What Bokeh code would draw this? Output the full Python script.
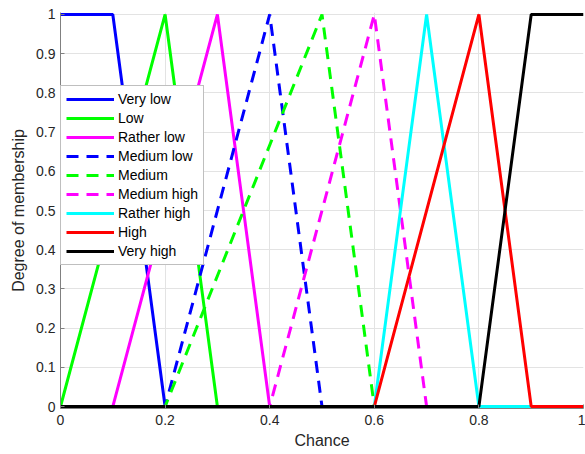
from bokeh.plotting import figure
from bokeh.models import Range1d, FixedTicker, Legend, LegendItem
from bokeh.embed import file_html
from bokeh.resources import INLINE

# Data: breakpoints of each membership function over Chance in [0, 1]
names = ["Very low", "Low", "Rather low", "Medium low", "Medium",
         "Medium high", "Rather high", "High", "Very high"]
xs = [
    [0, 0.1, 0.2, 1],
    [0, 0.2, 0.3, 1],
    [0, 0.1, 0.3, 0.4, 1],
    [0, 0.2, 0.4, 0.5, 1],
    [0, 0.2, 0.5, 0.6, 1],
    [0, 0.4, 0.6, 0.7, 1],
    [0, 0.6, 0.7, 0.8, 1],
    [0, 0.6, 0.8, 0.9, 1],
    [0, 0.8, 0.9, 1],
]
ys = [
    [1, 1, 0, 0],
    [0, 1, 0, 0],
    [0, 0, 1, 0, 0],
    [0, 0, 1, 0, 0],
    [0, 0, 1, 0, 0],
    [0, 0, 1, 0, 0],
    [0, 0, 1, 0, 0],
    [0, 0, 1, 0, 0],
    [0, 0, 1, 1],
]
colors = ["#0000ff", "#00ff00", "#ff00ff", "#0000ff", "#00ff00",
          "#ff00ff", "#00ffff", "#ff0000", "#000000"]
dashes = ["solid", "solid", "solid", "12 8", "12 8", "12 8", "solid", "solid", "solid"]
x_ticks = [0, 0.2, 0.4, 0.6, 0.8, 1]
y_ticks = [0, 0.1, 0.2, 0.3, 0.4, 0.5, 0.6, 0.7, 0.8, 0.9, 1]

p = figure(width=585, height=454, output_backend="svg", toolbar_location=None,
           x_range=Range1d(0, 1), y_range=Range1d(-0.005, 1.005),
           min_border_left=60, min_border_right=2, min_border_top=12,
           min_border_bottom=46)
p.outline_line_color = None
p.background_fill_color = "white"
p.border_fill_color = "white"

items = []
for name, x, y, c, d in zip(names, xs, ys, colors, dashes):
    r = p.line(x, y, line_color=c, line_width=3, line_dash=d)
    items.append(LegendItem(label=name, renderers=[r]))

font = "Liberation Sans"
for ax in (p.xaxis[0], p.yaxis[0]):
    ax.axis_line_color = "#808080"
    ax.major_tick_line_color = "#808080"
    ax.major_tick_in = 4
    ax.major_tick_out = 0
    ax.minor_tick_line_color = None
    ax.major_label_text_font = font
    ax.major_label_text_font_size = "14px"
    ax.major_label_text_color = "#262626"
    ax.axis_label_text_font = font
    ax.axis_label_text_font_size = "16px"
    ax.axis_label_text_font_style = "normal"
    ax.axis_label_text_color = "#262626"

p.xaxis.ticker = FixedTicker(ticks=x_ticks)
p.yaxis.ticker = FixedTicker(ticks=y_ticks)
p.xaxis.major_label_overrides = {0: "0", 1: "1", 0.2: "0.2", 0.4: "0.4", 0.6: "0.6", 0.8: "0.8"}
p.yaxis.major_label_overrides = {0: "0", 1: "1"}
p.xaxis.axis_label = "Chance"
p.yaxis.axis_label = "Degree of membership"
p.xaxis.major_label_standoff = 6
p.yaxis.major_label_standoff = 5
p.xaxis.axis_label_standoff = 4
p.yaxis.axis_label_standoff = 6

p.xgrid.grid_line_color = "#e3e3e3"
p.ygrid.grid_line_color = "#e3e3e3"
p.xgrid.ticker = FixedTicker(ticks=x_ticks)
p.ygrid.ticker = FixedTicker(ticks=y_ticks)

legend = Legend(items=items, location=(0, 143))
legend.label_text_font = font
legend.label_text_font_size = "14px"
legend.label_text_color = "#000000"
legend.label_height = 16
legend.glyph_height = 16
legend.glyph_width = 48
legend.spacing = 3
legend.padding = 5
legend.label_standoff = 4
legend.border_line_color = "#808080"
legend.border_line_width = 1
legend.background_fill_color = "white"
legend.background_fill_alpha = 1
legend.margin = 0
p.add_layout(legend)

open("out.html", "w").write(file_html(p, INLINE))
